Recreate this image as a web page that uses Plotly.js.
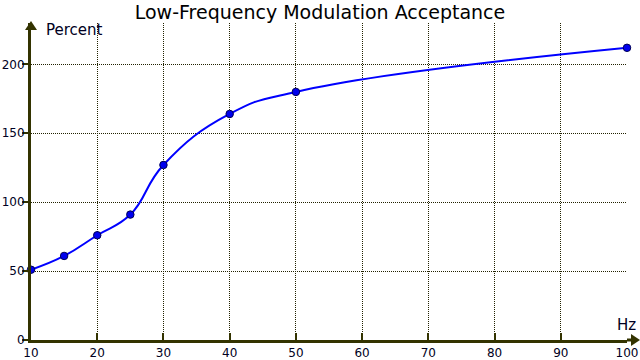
<!DOCTYPE html>
<html><head><meta charset="utf-8">
<script src="https://cdn.plot.ly/plotly-3.0.1.min.js"></script>
<style>html,body{margin:0;padding:0;background:#fff}</style>
</head><body>
<div id="chart" style="width:640px;height:360px"></div>
<script>
const freqHz = [10, 15, 20, 25, 30, 40, 50, 100];
const acceptancePct = [51, 61, 76, 91, 127, 164, 180, 212];
const xTicks = [10, 20, 30, 40, 50, 60, 70, 80, 90, 100];
const yTicks = [0, 50, 100, 150, 200];

const axisColor = '#333300';
const font = 'DejaVu Sans, Verdana, sans-serif';

const trace = {
  x: freqHz, y: acceptancePct, type: 'scatter', mode: 'lines+markers',
  line: {color: '#0000ff', width: 2, shape: 'spline', smoothing: 1.3},
  marker: {color: '#0000ee', size: 7.5, line: {color: '#000055', width: 1}},
  cliponaxis: false, hoverinfo: 'skip'
};

const pxX = p => (p - 31) / 596;
const pxY = p => (340 - p) / 317;

const layout = {
  width: 640, height: 360,
  margin: {l: 31, r: 13, t: 23, b: 20},
  paper_bgcolor: '#fff', plot_bgcolor: '#fff',
  showlegend: false,
  font: {family: font, color: '#000', size: 12},
  title: {text: 'Low-Frequency Modulation Acceptance', font: {family: font, size: 19, color: '#000'},
          x: 0.5, xanchor: 'center', y: 0.965, yanchor: 'middle'},
  xaxis: {range: [10, 100], tickvals: xTicks, ticktext: xTicks.map(String),
          showgrid: true, gridcolor: '#222200', griddash: '1px,1px', gridwidth: 1,
          showline: true, linecolor: axisColor, linewidth: 3,
          ticks: 'inside', ticklen: 7, tickcolor: axisColor, tickwidth: 2,
          tickfont: {family: font, size: 12, color: '#000022'}, zeroline: false, fixedrange: true},
  yaxis: {range: [0, 230], tickvals: yTicks, ticktext: yTicks.map(String),
          showgrid: true, gridcolor: '#222200', griddash: '1px,1px', gridwidth: 1,
          showline: true, linecolor: axisColor, linewidth: 3,
          ticks: 'outside', ticklen: 6, tickcolor: axisColor, tickwidth: 2, ticklabelstandoff: -5,
          tickfont: {family: font, size: 12, color: '#000022'}, zeroline: false, fixedrange: true},
  shapes: [
    {type: 'line', xref: 'paper', yref: 'paper', x0: 1, x1: pxX(634), y0: 0, y1: 0,
     line: {color: axisColor, width: 3}},
    {type: 'path', xref: 'paper', yref: 'paper', fillcolor: axisColor, line: {width: 0},
     path: `M ${pxX(631)} ${pxY(334)} L ${pxX(640)} ${pxY(340)} L ${pxX(631)} ${pxY(346)} Z`},
    {type: 'path', xref: 'paper', yref: 'paper', fillcolor: axisColor, line: {width: 0},
     path: `M ${pxX(25)} ${pxY(30)} L ${pxX(31)} ${pxY(21)} L ${pxX(37)} ${pxY(30)} Z`}
  ],
  annotations: [
    {text: 'Percent', xref: 'paper', yref: 'paper', x: pxX(44), y: pxY(30), xanchor: 'left', yanchor: 'middle',
     showarrow: false, font: {family: font, size: 15, color: '#000022'}},
    {text: 'Hz', xref: 'paper', yref: 'paper', x: pxX(638), y: pxY(325), xanchor: 'right', yanchor: 'middle',
     showarrow: false, font: {family: font, size: 15, color: '#000022'}}
  ]
};

Plotly.newPlot('chart', [trace], layout, {staticPlot: true, displayModeBar: false});
</script>
</body></html>
